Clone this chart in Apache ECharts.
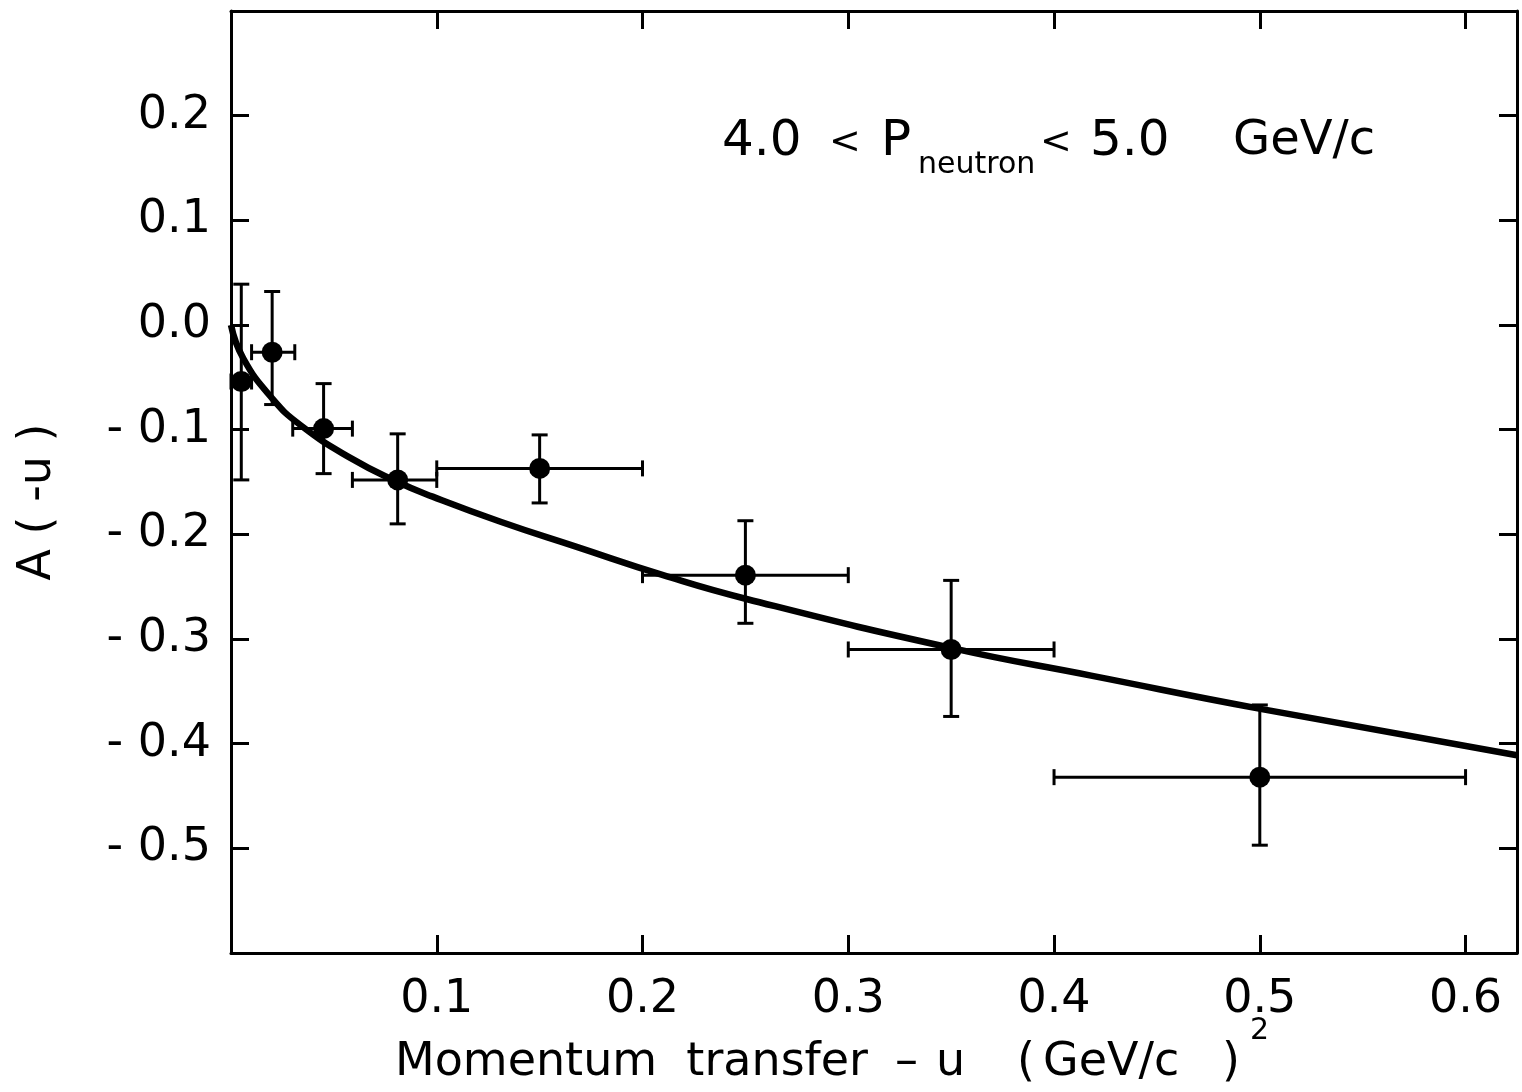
<!DOCTYPE html>
<html>
<head>
<meta charset="utf-8">
<script src="https://cdn.jsdelivr.net/npm/echarts@6/dist/echarts.min.js"></script>
<style>
html,body{margin:0;padding:0;background:#fff;}
#chart{width:1522px;height:1092px;}
</style>
</head>
<body>
<div id="chart"></div>
<script>
// ---- data ----
const pointX  = [0.005, 0.020, 0.045, 0.081, 0.150, 0.250, 0.350, 0.500];
const pointY  = [-0.054, -0.026, -0.099, -0.148, -0.137, -0.239, -0.310, -0.432];
const xLow    = [0.000, 0.010, 0.030, 0.059, 0.100, 0.200, 0.300, 0.400];
const xHigh   = [0.010, 0.031, 0.059, 0.100, 0.200, 0.300, 0.400, 0.600];
const yLow    = [-0.148, -0.076, -0.142, -0.190, -0.170, -0.285, -0.374, -0.497];
const yHigh   = [0.039, 0.032, -0.056, -0.104, -0.105, -0.187, -0.244, -0.363];

const curveX = [0, 0.006, 0.020, 0.034, 0.058, 0.081, 0.098, 0.131, 0.168, 0.210, 0.251, 0.351, 0.418, 0.501, 0.625];
const curveY = [0, -0.032, -0.070, -0.096, -0.127, -0.150, -0.164, -0.188, -0.212, -0.239, -0.262, -0.309, -0.335, -0.367, -0.411];

const xTickLabels = ['0.1', '0.2', '0.3', '0.4', '0.5', '0.6'];
const yTickLabels = ['0.2', '0.1', '0.0', '-0.1', '-0.2', '-0.3', '-0.4', '-0.5'];

// ---- chart ----
const FONT = 'DejaVu Sans';
const chart = echarts.init(document.getElementById('chart'), null, {renderer: 'canvas'});

const errData = pointX.map((x, i) => [x, pointY[i], xLow[i], xHigh[i], yLow[i], yHigh[i]]);
const ptData = pointX.map((x, i) => [x, pointY[i]]);
const curveData = curveX.map((x, i) => [x, curveY[i]]);

function fmtX(v) {
  const r = Math.round(v * 10) / 10;
  if (Math.abs(v - r) > 1e-6) return '';
  const s = r.toFixed(1);
  return xTickLabels.indexOf(s) >= 0 ? s : '';
}
function fmtY(v) {
  const r = Math.round(v * 10) / 10;
  if (Math.abs(v - r) > 1e-6) return '';
  const s = (Math.abs(r) < 1e-9 ? 0 : r).toFixed(1);
  if (yTickLabels.indexOf(s) < 0) return '';
  return s.charAt(0) === '-' ? '- ' + s.slice(1) : s;
}

const axisLine = {show: true, onZero: false, lineStyle: {color: '#000', width: 3}};
const axisTick = {show: true, inside: true, length: 18, lineStyle: {color: '#000', width: 3}};

function txt(x, y, text, size, extra) {
  return Object.assign({type: 'text', x: x, y: y,
    style: {text: text, font: size + 'px "' + FONT + '"', fill: '#000', align: 'left', verticalAlign: 'middle'}}, extra || {});
}

const option = {
  animation: false,
  backgroundColor: '#fff',
  grid: {left: 231, right: 5, top: 11, bottom: 139, containLabel: false},
  xAxis: [
    {type: 'value', min: 0, max: 0.625, interval: 0.1, position: 'bottom',
     axisLine: axisLine, axisTick: axisTick, splitLine: {show: false},
     axisLabel: {formatter: fmtX, color: '#000', fontFamily: FONT, fontSize: 46, margin: 24, showMaxLabel: false}},
    {type: 'value', min: 0, max: 0.625, interval: 0.1, position: 'top',
     axisLine: axisLine, axisTick: axisTick, splitLine: {show: false}, axisLabel: {show: false}}
  ],
  yAxis: [
    {type: 'value', min: -0.6, max: 0.3, interval: 0.1, position: 'left',
     axisLine: axisLine, axisTick: axisTick, splitLine: {show: false},
     axisLabel: {formatter: fmtY, color: '#000', fontFamily: FONT, fontSize: 46, margin: 20}},
    {type: 'value', min: -0.6, max: 0.3, interval: 0.1, position: 'right',
     axisLine: axisLine, axisTick: axisTick, splitLine: {show: false}, axisLabel: {show: false}}
  ],
  series: [
    {
      type: 'line', data: curveData, xAxisIndex: 0, yAxisIndex: 0,
      smooth: 0.5, showSymbol: false, clip: true,
      lineStyle: {color: '#000', width: 6.5}, z: 3
    },
    {
      type: 'custom', data: errData, xAxisIndex: 0, yAxisIndex: 0, z: 4,
      renderItem: function (params, api) {
        const x = api.value(0), y = api.value(1);
        const pL = api.coord([api.value(2), y]);
        const pR = api.coord([api.value(3), y]);
        const pB = api.coord([x, api.value(4)]);
        const pT = api.coord([x, api.value(5)]);
        const c = 8;
        const st = {stroke: '#000', lineWidth: 3};
        const ln = (x1, y1, x2, y2) => ({type: 'line', shape: {x1, y1, x2, y2}, style: st});
        return {type: 'group', children: [
          ln(pL[0], pL[1], pR[0], pR[1]),
          ln(pT[0], pT[1], pB[0], pB[1]),
          ln(pL[0], pL[1] - c, pL[0], pL[1] + c),
          ln(pR[0], pR[1] - c, pR[0], pR[1] + c),
          ln(pT[0] - c, pT[1], pT[0] + c, pT[1]),
          ln(pB[0] - c, pB[1], pB[0] + c, pB[1])
        ]};
      }
    },
    {
      type: 'scatter', data: ptData, xAxisIndex: 0, yAxisIndex: 0, z: 5,
      symbol: 'circle', symbolSize: 21,
      itemStyle: {color: '#000', borderWidth: 0, opacity: 1}
    }
  ],
  graphic: [
    // y axis name
    txt(38, 502, 'A ( -u )', 46, {rotation: Math.PI / 2}),
    // x axis title
    txt(395, 1063, 'Momentum  transfer', 46),
    txt(895, 1063, '\u2013', 46),
    txt(936, 1063, 'u', 46),
    txt(1017, 1063, '(', 46),
    txt(1043, 1063, 'GeV/c', 46),
    txt(1222, 1063, ')', 46),
    txt(1250, 1031, '2', 30),
    // annotation
    txt(829, 143, '<', 38),
    txt(722, 142, '4.0', 50),
    txt(881, 142, 'P', 50),
    txt(918, 165, 'neutron', 30),
    txt(1040, 143, '<', 38),
    txt(1090, 142, '5.0', 50),
    txt(1233, 142, 'GeV/c', 48)
  ].map(g => { g.style.align = g.rotation ? 'center' : 'left'; return g; })
};
chart.setOption(option);
</script>
</body>
</html>
